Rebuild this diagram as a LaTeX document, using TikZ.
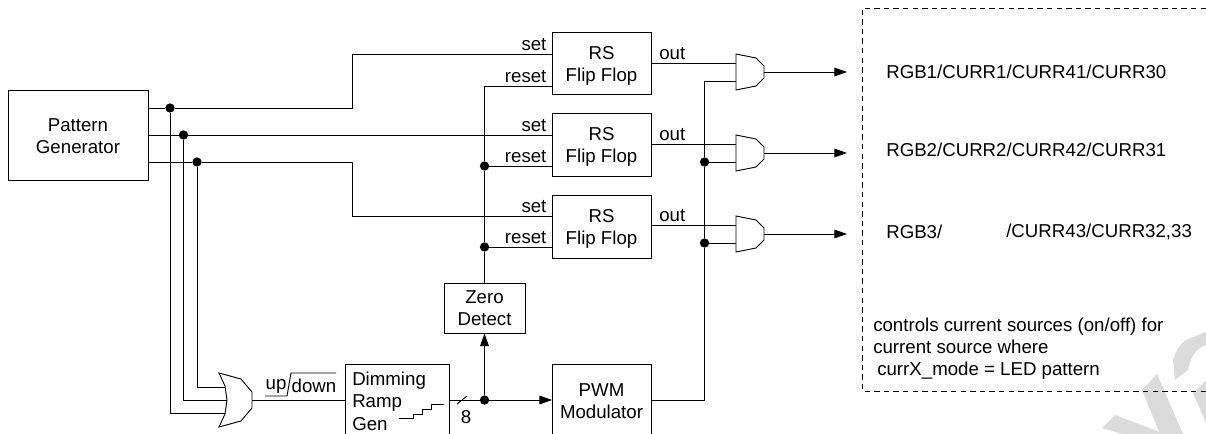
\documentclass[tikz,border=0pt]{standalone}
\usepackage{fontspec}
\setmainfont{Liberation Sans}
\usetikzlibrary{arrows.meta,positioning,calc}

\begin{document}
\begin{tikzpicture}[
    x=0.75pt, y=-0.75pt,
    wire/.style={line width=0.7pt, line join=miter},
    flow/.style={wire, -{Triangle[length=9.5pt,width=6.5pt]}},
    dashbox/.style={line width=0.6pt, dash pattern=on 4pt off 3.2pt},
    block/.style={draw, line width=0.7pt, rectangle, inner sep=0pt},
    rsbox/.style={block, minimum width=74.25pt, minimum height=47pt},
    dot/.style={circle, fill=black, inner sep=0pt, minimum size=7pt},
    label/.style={font=\fontsize{14}{16.6}\selectfont, inner sep=0pt},
    andgate/.pic={
        \draw[wire, fill=white] (0,-18) -- (20,-14) -- (28,-6) -- (28,6) -- (20,14) -- (0,18) -- cycle;
        \coordinate (-a) at (0,-9);
        \coordinate (-b) at (0,9);
        \coordinate (-y) at (28,0);
    },
    orgate/.pic={
        \draw[wire, fill=white] (0,-27) -- (22,-21) -- (33,-8) -- (33,8) -- (22,21) -- (0,27)
            -- (6,14) -- (8,0) -- (6,-14) -- cycle;
        \coordinate (-a) at (6,-13);
        \coordinate (-b) at (8,0);
        \coordinate (-c) at (6,13);
        \coordinate (-y) at (33,0);
    }
]
\useasboundingbox (0,0) rectangle (1206,434);

% Watermark
\fill[gray!28] (1102,428) -- (1115,415) -- (1165,434) -- (1122,434) -- cycle;
\fill[gray!28] (1142,390) -- (1157,374) -- (1183,434) -- (1160,434) -- cycle;
\fill[gray!28] (1175,380) -- (1173,360) .. controls (1180,342) .. (1206,332)
    -- (1206,345) .. controls (1194,349) and (1191,358) .. (1188,370) -- cycle;
\fill[gray!28] (1206,380) -- (1193,393) -- (1206,423) -- cycle;

% Pattern generator
\node[block, minimum width=105pt, minimum height=67.5pt] (pg) at (78,135) {};
\node[label, align=center] (pgl) at (78,136) {Pattern\\Generator};
\coordinate (pg1) at (148,108);
\coordinate (pg2) at (148,135);
\coordinate (pg3) at (148,162);
\node[dot] (d1) at (170,108) {};
\node[dot] (d2) at (183.5,135) {};
\node[dot] (d3) at (197,162) {};

% Flip flops
\node[rsbox] (rs1) at (601.5,63.5) {};
\node[rsbox, below=13.5pt of rs1] (rs2) {};
\node[rsbox, below=13.5pt of rs2] (rs3) {};
\foreach \i/\sy/\ry/\oy in {1/54/86/63, 2/135/166/144, 3/216/247/225} {
    \node[label, align=center, yshift=-1.6pt] (rsl\i) at (rs\i) {RS\\Flip Flop};
    \coordinate (set\i) at (552,\sy);
    \coordinate (reset\i) at (552,\ry);
    \coordinate (out\i) at (651,\oy);
    \node[label, above left=2pt and 4pt of set\i] (setl\i) {set};
    \node[label, above left=2pt and 4pt of reset\i] (resetl\i) {reset};
    \node[label, above right=2pt and 6pt of out\i] (outl\i) {out};
}

% Gates
\pic (and1) at (736,72) {andgate};
\pic (and2) at (736,153) {andgate};
\pic (and3) at (736,234) {andgate};
\foreach \i in {1,2,3} {
    \draw[wire] (out\i) -- (and\i-a);
}
\coordinate (led1) at (847,72);
\coordinate (led2) at (847,153);
\coordinate (led3) at (847,234);
\foreach \i in {1,2,3} {
    \draw[flow] (and\i-y) -- (led\i);
}

% Lower row
\pic (or) at (219,400) {orgate};
\node[block, minimum width=78pt, minimum height=52.5pt, anchor=north west] (ramp) at (345,364) {};
\node[label, anchor=north west, align=left] (rampl) at (352,372) {Dimming\\Ramp\\Gen};
\node[block, minimum width=74.25pt, minimum height=52.5pt, anchor=north west] (pwm) at (552,364) {};
\node[label, align=center] (pwml) at (601.5,401.5) {PWM\\Modulator};
\node[block, minimum width=60.75pt, minimum height=37.5pt] (zero) at (484.5,308) {};
\node[label, align=center] (zerol) at (484.5,308.5) {Zero\\Detect};
\node[dot] (d4) at (484.5,400) {};
\node[dot] (d5) at (484.5,166) {};
\node[dot] (d6) at (484.5,247) {};
\node[dot] (d7) at (704.5,162) {};
\node[dot] (d8) at (704.5,243) {};

% Pattern lines
\draw[wire] (pg1) -- (d1) -- (352,108) |- (set1);
\draw[wire] (pg2) -- (d2) -- (set2);
\draw[wire] (pg3) -- (d3) -- (352,162) |- (set3);
\draw[wire] (d1) |- (or-c);
\draw[wire] (d2) |- (or-b);
\draw[wire] (d3) |- (or-a);

% Up down
\draw[wire] (or-y) -- (ramp.west |- or-y);
\node[label] (up) at (276,386.5) {up};
\node[label] (down) at (314,386) {down};
\draw[wire] (265,396) -- (287,396) -- (291,373) -- (336,373);

% Ramp output
\draw[wire] (399,418) -- (413,418) -- (413,414) -- (422,414) -- (422,409) -- (431,409) -- (431,404) -- (444,404);
\draw[wire] (449,400) -- (d4);
\draw[wire] (457,404) -- (467,396);
\node[label] (bits) at (466,417) {8};
\draw[flow] (d4) -- (zero.south);
\draw[flow] (d4) -- (pwm.west |- d4);

% Reset line
\draw[wire] (zero.north) -- (d6) -- (d5) -- (484.5,86) -- (reset1);
\draw[wire] (d5) -- (reset2);
\draw[wire] (d6) -- (reset3);

% Modulator to gates
\draw[wire] (pwm.east |- d4) -| (d8) -- (d7) |- (and1-b);
\draw[wire] (d7) -- (and2-b);
\draw[wire] (d8) -- (and3-b);

% Dashed area
\draw[dashbox] (1206,8) -- (862,8) -- (862,391) -- (1206,391);
\node[label, anchor=west] (rgb1) at (886,72) {RGB1/CURR1/CURR41/CURR30};
\node[label, anchor=west] (rgb2) at (886,150) {RGB2/CURR2/CURR42/CURR31};
\node[label, anchor=west] (rgb3) at (886,232) {RGB3/};
\node[label, anchor=west] (rgb3b) at (1006,232) {/CURR43/CURR32,33};
\node[label, anchor=north west, align=left] (note) at (873,317.5)
    {controls current sources (on/off) for\\current source where\\\hspace*{3pt}currX\_mode = LED pattern};
\end{tikzpicture}
\end{document}
